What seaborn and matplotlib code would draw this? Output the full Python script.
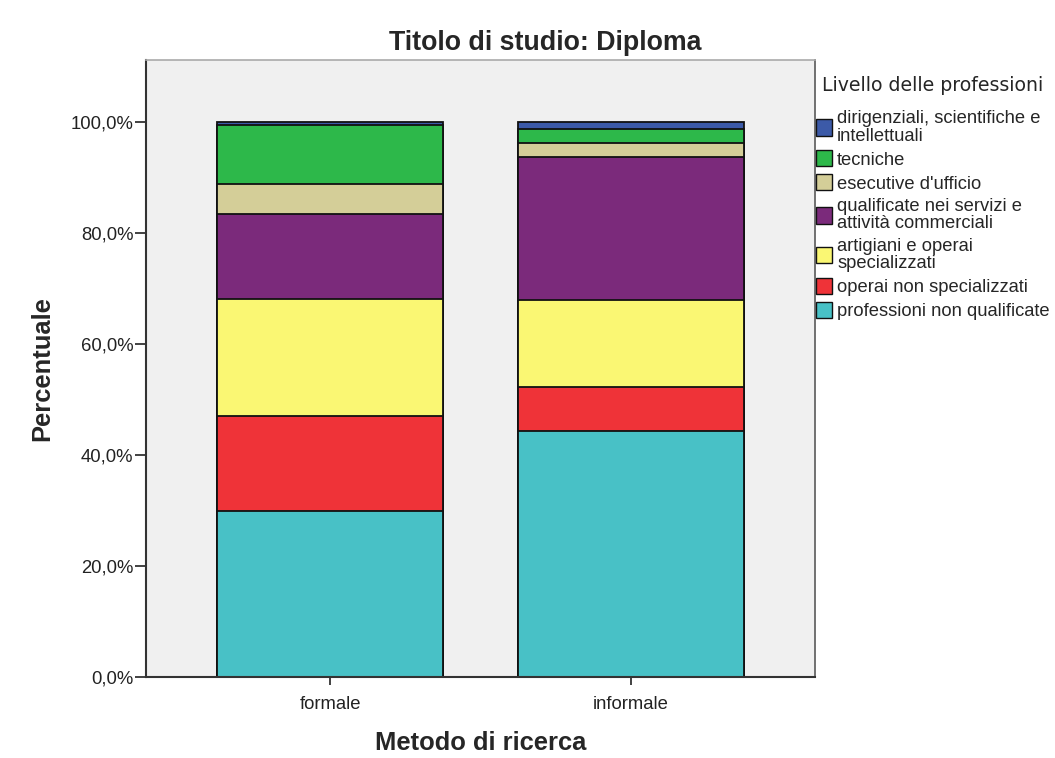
import numpy as np
import pandas as pd
import matplotlib
matplotlib.use("Agg")
import matplotlib.pyplot as plt
import seaborn as sns
from matplotlib.patches import Patch

# categories on x
metodi = ["formale", "informale"]

# levels, bottom of the stack first
livelli = ["professioni non qualificate", "operai non specializzati",
           "artigiani e operai\nspecializzati",
           "qualificate nei servizi e\nattività commerciali",
           "esecutive d'ufficio", "tecniche",
           "dirigenziali, scientifiche e\nintellettuali"]

# percent values per level (same order as livelli)
formale = [29.9, 17.1, 21.2, 15.2, 5.5, 10.6, 0.5]
informale = [44.4, 7.8, 15.7, 25.9, 2.5, 2.4, 1.3]

colori = ["#48C1C6", "#EF3338", "#FAF773", "#7B2A7B", "#D4CE98", "#2DB84A", "#3C5AA8"]

sns.set_style("white")
plt.rcParams["font.family"] = ["Liberation Sans", "DejaVu Sans"]

df = pd.DataFrame({"metodo": np.repeat(metodi, len(livelli)),
                   "livello": livelli * len(metodi),
                   "pct": formale + informale})
df["cum"] = df.groupby("metodo")["pct"].cumsum()

fig = plt.figure(figsize=(10.55, 7.58), dpi=100)
ax = fig.add_axes([146 / 1055, 1 - 677 / 758, 669 / 1055, 617 / 758])
ax.set_facecolor("#F0F0F0")

# draw cumulative bars from the top of the stack down
for liv, col in reversed(list(zip(livelli, colori))):
    sub = df[df["livello"] == liv]
    sns.barplot(data=sub, x="metodo", y="cum", order=metodi, color=col,
                width=0.752, edgecolor="#111111", linewidth=1.3, saturation=1,
                ax=ax)

ax.set_ylim(0, 111.2)
ax.set_xlim(-0.613, 1.613)
ax.set_yticks([0, 20, 40, 60, 80, 100])
ax.set_yticklabels(["0,0%", "20,0%", "40,0%", "60,0%", "80,0%", "100,0%"])
ax.tick_params(axis="y", direction="out", length=8, width=1.3, color="#333333",
               labelsize=13.3, labelcolor="#222222", left=True, pad=1)
ax.tick_params(axis="x", direction="out", length=6, width=1.3, color="#333333",
               labelsize=13.3, labelcolor="#222222", bottom=True, pad=8)

for s in ["left", "bottom"]:
    ax.spines[s].set_color("#333333")
    ax.spines[s].set_linewidth(1.5)
ax.spines["top"].set_color("#AAAAAA")
ax.spines["top"].set_linewidth(1.2)
ax.spines["right"].set_color("#666666")
ax.spines["right"].set_linewidth(1.3)

ax.set_ylabel("Percentuale", fontsize=18.4, fontweight="bold", labelpad=12)
ax.set_xlabel("Metodo di ricerca", fontsize=18.4, fontweight="bold", labelpad=13)
ax.set_title("Titolo di studio: Diploma", fontsize=19.3, fontweight="bold",
             pad=7, x=(545 - 146) / 669)

handles = [Patch(facecolor=c, edgecolor="#111111", linewidth=1.0, label=l)
           for l, c in zip(livelli, colori)]
leg = fig.legend(handles=handles[::-1], loc="upper left",
                 bbox_to_anchor=(816 / 1055, 1 - 76 / 758), frameon=False,
                 title="Livello delle professioni", fontsize=13.2,
                 title_fontproperties={"family": "DejaVu Sans", "size": 13.6},
                 handlelength=0.85, handleheight=1.0, handletextpad=0.3,
                 labelspacing=0.3, borderaxespad=0, borderpad=0,
                 alignment="center")
for t in leg.get_texts():
    t.set_linespacing(1.02)
# more room between legend title and entries
leg._legend_box.sep = 11

fig.savefig("out.png", dpi=100)
